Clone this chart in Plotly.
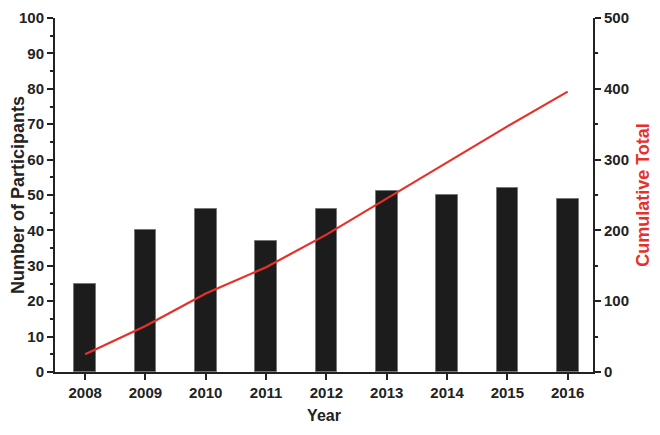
import plotly.graph_objects as go

# data
years = ['2008', '2009', '2010', '2011', '2012', '2013', '2014', '2015', '2016']
participants = [25, 40, 46, 37, 46, 51, 50, 52, 49]
cumulative = [25, 65, 111, 148, 194, 245, 295, 347, 396]

font_bold = 'Liberation Sans, Arial, sans-serif'
dark = '#222222'
red = '#e8302a'

fig = go.Figure()

fig.add_trace(go.Bar(
    x=years,
    y=participants,
    width=0.36,
    marker=dict(color='#1c1c1c', line=dict(color='#777777', width=1)),
    showlegend=False
))

fig.add_trace(go.Scatter(
    x=years,
    y=cumulative,
    mode='lines',
    line=dict(color=red, width=2.2),
    yaxis='y2',
    showlegend=False
))

axis_common = dict(
    showline=True, linecolor=dark, linewidth=2,
    ticks='outside', tickcolor=dark, tickwidth=2, ticklen=6,
    showgrid=False, zeroline=False, automargin=False,
    ticklabeloverflow='allow',
    tickfont=dict(family=font_bold, size=15, color=dark, weight='bold'),
)

# page body adds an 8px offset, margins compensate for it
fig.update_layout(
    width=660, height=435,
    margin=dict(l=47, r=75, t=10, b=71),
    plot_bgcolor='white', paper_bgcolor='white',
    bargap=0,
    xaxis=dict(
        type='category',
        range=[-0.5, 8.42],
        title=dict(text='Year', font=dict(family=font_bold, size=16, color=dark, weight='bold'), standoff=10),
        **axis_common
    ),
    yaxis=dict(
        range=[0, 100],
        tickvals=list(range(0, 101, 10)),
        minor=dict(ticks='outside', tickvals=list(range(5, 100, 10)), ticklen=3, tickcolor=dark, tickwidth=1.5),
        title=dict(text='Number of Participants', font=dict(family=font_bold, size=18, color=dark, weight='bold'), standoff=6),
        **axis_common
    ),
    yaxis2=dict(
        range=[0, 500],
        tickvals=list(range(0, 501, 100)),
        minor=dict(ticks='outside', tickvals=list(range(50, 500, 100)), ticklen=3, tickcolor=dark, tickwidth=1.5),
        overlaying='y', side='right',
        title=dict(text='Cumulative Total', font=dict(family=font_bold, size=18, color=red, weight='bold'), standoff=8),
        **axis_common
    ),
)

fig.write_html('out.html')
